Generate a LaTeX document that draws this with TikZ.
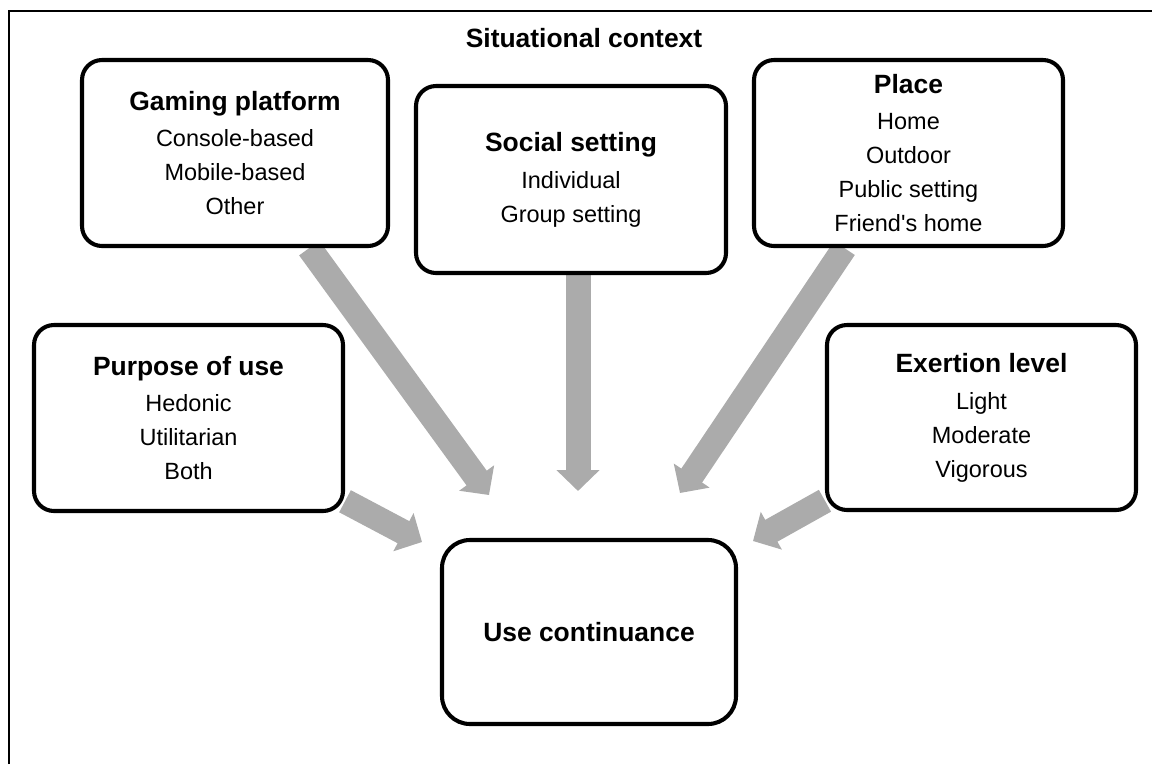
\documentclass[tikz,border=0pt]{standalone}
\usepackage{fontspec}
\setmainfont{Liberation Sans}
\usetikzlibrary{arrows.meta,calc,positioning,backgrounds}
\definecolor{arrowgray}{RGB}{171,171,171}
\newcommand{\hd}[1]{{\fontsize{18.8pt}{24.2pt}\selectfont\bfseries #1}}
\tikzset{
	every node/.style={font=\fontsize{16.7pt}{24.2pt}\selectfont},
}

\begin{document}
\begin{tikzpicture}[
	ctx/.style={draw, fill=white, line width=2.9pt, rounded corners=0.5cm, align=center, inner sep=0pt, minimum width=7.7cm, minimum height=4.65cm},
	ctxbig/.style={ctx, rounded corners=0.7cm, minimum width=7.35cm, minimum height=4.6cm},
	flow/.style={draw=arrowgray, line width=0.625cm, -{Triangle[length=0.525cm,width=1.05cm]}},
	]
	\useasboundingbox (0,0) rectangle (28.8,-19.1);
	%frame
	\draw[line width=1pt] (0.225,-19.1) |- (28.8,-0.275);
	\node[anchor=base] (title) at (14.6,-1.175) {\hd{Situational context}};
	
	%context boxes
	\node[ctx, minimum width=7.65cm] (gaming) at (5.875,-3.825) {\hd{Gaming platform}\\[2pt] Console-based\\ Mobile-based\\ Other};
	\node[ctx, minimum width=7.75cm, minimum height=4.675cm] (social) at (14.275,-4.4875) {\hd{Social setting}\\[2pt] Individual\\ Group setting};
	\node[ctx, minimum width=7.725cm] (place) at (22.7125,-3.825) {\hd{Place}\\[2pt] Home\\ Outdoor\\ Public setting\\ Friend\textquotesingle s home};
	\node[ctx, minimum width=7.725cm] (purpose) at (4.7125,-10.45) {\hd{Purpose of use}\\[2pt] Hedonic\\ Utilitarian\\ Both};
	\node[ctx, minimum width=7.725cm, minimum height=4.625cm] (exertion) at (24.5375,-10.4375) {\hd{Exertion level}\\[2pt] Light\\ Moderate\\ Vigorous};
	%outcome
	\node[ctxbig] (cont) at (14.725,-15.8) {\hd{Use continuance}};
	
	%arrow tips
	\coordinate (tipG) at (12.225,-12.375);
	\coordinate (tipS) at (14.45,-12.275);
	\coordinate (tipP) at (17.0,-12.325);
	\coordinate (tipU) at (10.55,-13.55);
	\coordinate (tipE) at (18.825,-13.525);
	
	%arrows
	\begin{pgfonlayer}{background}
	\draw[flow] (gaming.-52) -- (tipG);
	\draw[flow] (social.south -| tipS) -- (tipS);
	\draw[flow] (place.-124) -- (tipP);
	\draw[flow] (purpose.-28) -- (tipU);
	\draw[flow] (exertion.-152) -- (tipE);
	\end{pgfonlayer}
\end{tikzpicture}
\end{document}
